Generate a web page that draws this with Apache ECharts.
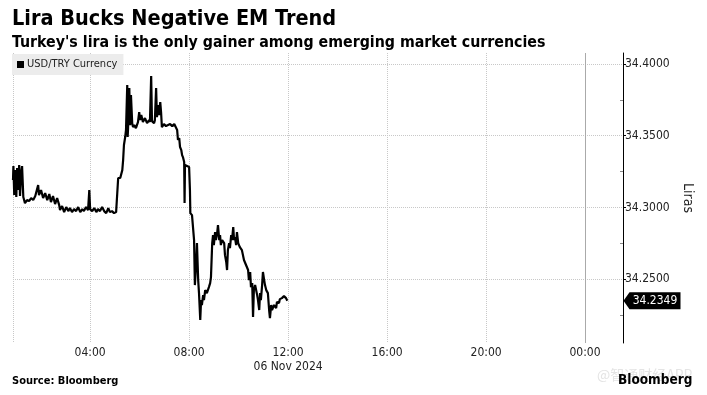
<!DOCTYPE html>
<html><head><meta charset="utf-8">
<script src="https://cdn.jsdelivr.net/npm/echarts@6/dist/echarts.min.js"></script>
<style>html,body{margin:0;padding:0;background:#fff}#c{width:707px;height:395px}</style>
</head><body><div id="c"></div>
<script>
// minutes since 00:00, 06 Nov 2024
const timeMinutes = [53,54,56,58,61,63,65,68,70,73,75,78,80,82,87,92,97,102,107,111,114,116,121,126,131,136,141,145,150,155,160,165,167,172,177,182,187,191,196,201,206,211,216,221,225,230,235,238,240,245,250,255,259,264,269,274,279,284,288,293,298,303,305,308,313,317,318,320,322,325,327,330,331,332,335,337,339,342,344,347,351,356,359,361,364,368,373,378,383,385,388,390,395,397,400,402,405,407,410,412,414,419,424,429,434,439,444,448,451,453,456,458,461,463,465,468,469,470,475,480,482,483,487,490,492,494,497,499,502,504,507,509,511,514,516,519,523,528,531,533,536,538,540,543,545,548,550,553,555,557,560,565,567,570,572,574,577,579,582,584,587,589,591,594,596,599,603,608,613,618,623,625,628,630,633,635,637,640,645,647,650,652,654,657,659,662,664,667,669,671,674,676,679,681,686,691,693,698,700,705,710,715,718];
const usdTry = [34.3191,34.3288,34.3086,34.3260,34.3072,34.3274,34.3121,34.3295,34.3079,34.3246,34.3288,34.3072,34.3051,34.3030,34.3051,34.3044,34.3065,34.3051,34.3079,34.3072,34.3156,34.3086,34.3121,34.3065,34.3100,34.3051,34.3093,34.3037,34.3079,34.3023,34.3065,34.3016,34.2981,34.3009,34.2967,34.3002,34.2974,34.2995,34.2967,34.2988,34.2974,34.3002,34.2967,34.2988,34.2974,34.3002,34.2981,34.3121,34.2988,34.2974,34.2995,34.2967,34.2988,34.2974,34.3002,34.2974,34.2960,34.2995,34.2967,34.2974,34.2960,34.2967,34.2967,34.3205,34.3205,34.3205,34.3260,34.3330,34.3435,34.3491,34.3540,34.3853,34.3491,34.3553,34.3833,34.3574,34.3784,34.3588,34.3560,34.3574,34.3553,34.3595,34.3665,34.3609,34.3644,34.3595,34.3623,34.3588,34.3609,34.3595,34.3916,34.3602,34.3588,34.3609,34.3833,34.3630,34.3714,34.3644,34.3735,34.3665,34.3560,34.3581,34.3567,34.3574,34.3581,34.3567,34.3581,34.3588,34.3540,34.3470,34.3484,34.3421,34.3400,34.3365,34.3351,34.3316,34.3030,34.3295,34.3288,34.3281,34.3121,34.2960,34.2946,34.2933,34.2772,34.2458,34.2598,34.2751,34.2493,34.2402,34.2214,34.2353,34.2319,34.2388,34.2353,34.2423,34.2402,34.2444,34.2472,34.2514,34.2751,34.2807,34.2737,34.2828,34.2772,34.2821,34.2877,34.2772,34.2807,34.2737,34.2772,34.2751,34.2667,34.2619,34.2563,34.2702,34.2751,34.2716,34.2807,34.2772,34.2863,34.2772,34.2793,34.2737,34.2828,34.2751,34.2723,34.2702,34.2633,34.2598,34.2563,34.2493,34.2549,34.2444,34.2472,34.2235,34.2423,34.2458,34.2388,34.2353,34.2284,34.2402,34.2353,34.2458,34.2549,34.2493,34.2458,34.2423,34.2423,34.2402,34.2284,34.2228,34.2319,34.2284,34.2319,34.2298,34.2340,34.2333,34.2360,34.2367,34.2381,34.2367,34.2349];
const seriesName = 'USD/TRY Currency';
const xTickMinutes = [240, 480, 720, 960, 1200, 1440];
const xTickLabels = ['04:00', '08:00', '12:00\n06 Nov 2024', '16:00', '20:00', '00:00'];
const yTickValues = [34.25, 34.30, 34.35, 34.40];
const yMinorTicks = [34.225, 34.275, 34.325, 34.375];
const xMin = 53, xMax = 1532;
const yMin = 34.2054, yMax = 34.4077;
const dayBoundary = 1440;

const F = "'Liberation Sans Narrow','Arial Narrow','DejaVu Sans Condensed',sans-serif";
const lastVal = usdTry[usdTry.length - 1];
const lineData = timeMinutes.map((t, i) => [t, usdTry[i]]);

const chart = echarts.init(document.getElementById('c'), null, {renderer: 'canvas'});
chart.setOption({
  animation: false,
  backgroundColor: '#fff',
  title: [
    {text: 'Lira Bucks Negative EM Trend', left: 12, top: 8, padding: 0,
     textStyle: {fontFamily: F, fontSize: 21.5, fontWeight: 'bold', color: '#000'}},
    {text: "Turkey's lira is the only gainer among emerging market currencies", left: 12, top: 35, padding: 0,
     textStyle: {fontFamily: F, fontSize: 15.8, fontWeight: 'bold', color: '#000'}},
    {text: 'Source: Bloomberg', left: 12, top: 376, padding: 0,
     textStyle: {fontFamily: F, fontSize: 11, fontWeight: 'bold', color: '#000'}},
    {text: '@智通财经APP', left: 597, top: 368, padding: 0,
     textStyle: {fontFamily: "'Noto Sans CJK SC',sans-serif", fontSize: 14, fontWeight: 'normal', color: '#e4e4e4'}},
    {text: 'Bloomberg', left: 618, top: 373, padding: 0,
     textStyle: {fontFamily: F, fontSize: 13.5, fontWeight: 'bold', color: '#000'}}
  ],
  legend: {
    data: [{name: seriesName, icon: 'rect'}],
    left: 12, top: 54, itemWidth: 7, itemHeight: 7, itemGap: 4,
    padding: [5, 6, 5, 5], backgroundColor: '#ececec', selectedMode: false,
    textStyle: {fontFamily: F, fontSize: 11, color: '#222', padding: [0, 0, 0, -2]}
  },
  grid: {left: 13, right: 84, top: 53, bottom: 52, containLabel: false},
  xAxis: {
    type: 'value', min: xMin, max: xMax,
    axisLine: {show: false},
    axisTick: {show: false, customValues: [xMin].concat(xTickMinutes)},
    splitLine: {show: true, lineStyle: {type: 'dotted', color: '#c8c8c8', width: 1}},
    axisLabel: {
      customValues: xTickMinutes, margin: 3, fontFamily: F, fontSize: 12, color: '#222', lineHeight: 14,
      formatter: v => xTickLabels[xTickMinutes.indexOf(v)] || ''
    }
  },
  yAxis: [{
    type: 'value', position: 'right', min: yMin, max: yMax,
    axisLine: {show: true, lineStyle: {color: '#000', width: 1}},
    axisTick: {show: true, customValues: yTickValues, length: 3, lineStyle: {color: '#000'}},
    axisLabel: {customValues: yTickValues, margin: 2, fontFamily: F, fontSize: 12, color: '#222',
      formatter: v => v.toFixed(4)},
    splitLine: {show: true, lineStyle: {type: 'dotted', color: '#c8c8c8', width: 1}},
    name: 'Liras', nameLocation: 'middle', nameRotate: -90, nameGap: 56,
    nameTextStyle: {fontFamily: F, fontSize: 14, color: '#222'}
  }, {
    type: 'value', position: 'right', min: yMin, max: yMax,
    axisLine: {show: false},
    axisTick: {show: true, inside: true, customValues: yMinorTicks, length: 3, lineStyle: {color: '#888'}},
    axisLabel: {show: false},
    splitLine: {show: false}
  }],
  series: [{
    name: seriesName, type: 'line', data: lineData, showSymbol: false, symbol: 'none',
    lineStyle: {color: '#000', width: 2.2}, itemStyle: {color: '#000'},
    clip: false,
    markLine: {
      silent: true, symbol: 'none', label: {show: false},
      lineStyle: {color: '#aaa', type: 'solid', width: 1},
      data: [{xAxis: dayBoundary}]
    },
    markPoint: {
      silent: true,
      symbol: 'path://M0,8 L6,0 L57,0 L57,16 L6,16 Z',
      symbolSize: [57, 17], symbolKeepAspect: false, symbolOffset: [29, 0],
      itemStyle: {color: '#000'},
      label: {show: true, position: 'inside', offset: [3, 0], color: '#fff', fontFamily: F, fontSize: 12,
        formatter: () => lastVal.toFixed(4)},
      data: [{coord: [xMax, lastVal], value: lastVal}]
    }
  }]
});
</script></body></html>
